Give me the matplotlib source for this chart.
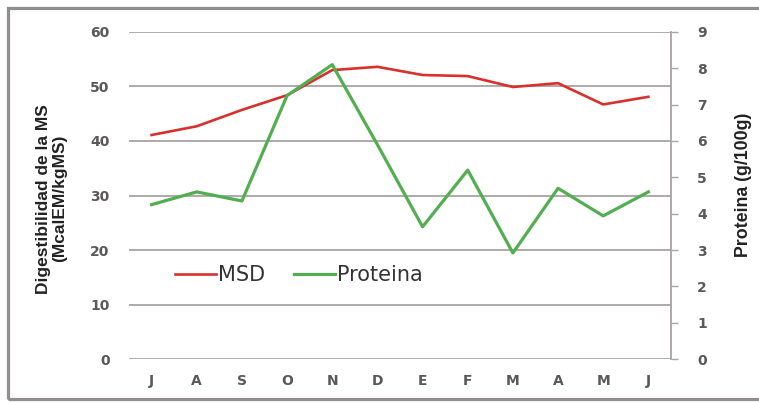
import matplotlib
matplotlib.use("Agg")
import matplotlib.pyplot as plt
from matplotlib.patches import Rectangle

# Monthly series (July to June)
months = ["J", "A", "S", "O", "N", "D", "E", "F", "M", "A", "M", "J"]
msd = [41.1, 42.7, 45.7, 48.4, 53.0, 53.6, 52.1, 51.9, 49.9, 50.6, 46.7, 48.1]
proteina = [4.25, 4.6, 4.35, 7.25, 8.1, 5.9, 3.64, 5.2, 2.92, 4.7, 3.94, 4.6]

left_ticks = [0, 10, 20, 30, 40, 50, 60]
right_ticks = [0, 1, 2, 3, 4, 5, 6, 7, 8, 9]

plt.rcParams["font.family"] = ["DejaVu Sans"]

fig = plt.figure(figsize=(7.59, 4.04), dpi=100)
ax = fig.add_axes([0.170, 0.111, 0.714, 0.810])
ax2 = ax.twinx()

x = list(range(len(months)))
grid_c = "#aaa3a3"
tick_c = "#5a5858"

l1, = ax.plot(x, msd, color="#d8302d", lw=1.9, label="MSD", zorder=3)
l2, = ax2.plot(x, proteina, color="#52ae50", lw=2.3, label="Proteina", zorder=3)

ax.set_xlim(-0.5, len(months) - 0.5)
ax.set_ylim(0, 60)
ax.set_yticks(left_ticks)
ax.set_xticks(x)
ax.set_xticklabels(months)
ax2.set_ylim(0, 9)
ax2.set_yticks(right_ticks)

ax.grid(axis="y", color=grid_c, lw=1.3)
ax.set_axisbelow(True)

for s in ["top", "left", "bottom", "right"]:
    ax.spines[s].set_visible(False)
for s in ["top", "left", "bottom"]:
    ax2.spines[s].set_visible(False)
ax2.spines["right"].set_color(grid_c)
ax2.spines["right"].set_linewidth(1.3)

ax.tick_params(axis="y", length=0, pad=14, labelsize=10, labelcolor=tick_c)
ax.tick_params(axis="x", length=0, pad=11, labelsize=10, labelcolor=tick_c)
for lab in ax.get_xticklabels() + ax.get_yticklabels():
    lab.set_fontweight("bold")
ax2.tick_params(axis="y", length=5, width=1.0, color=grid_c, pad=14,
                labelsize=10, labelcolor=tick_c)
for lab in ax2.get_yticklabels():
    lab.set_fontweight("bold")

ax.set_ylabel("Digestibilidad de la MS\n(McalEM/kgMS)", fontsize=12.5,
              fontweight="bold", color="#222222", linespacing=1.1,
              family=["Liberation Sans", "DejaVu Sans"])
ax.yaxis.set_label_coords(-0.114, 0.49)
ax2.set_ylabel("Proteina (g/100g)", fontsize=12.8, fontweight="bold",
               color="#222222", family=["Liberation Sans", "DejaVu Sans"])
ax2.yaxis.set_label_coords(1.118, 0.532)

ax.legend(handles=[l1, l2], loc="center left",
          bbox_to_anchor=(175 / 759, 1 - 275 / 404),
          bbox_transform=fig.transFigure, borderpad=0, borderaxespad=0,
          ncol=2, frameon=False, fontsize=15, handlelength=1.95,
          handletextpad=0.1, columnspacing=1.4, labelcolor="#333333")

fig.add_artist(Rectangle((0.011, 0.013), 1.05, 0.967, transform=fig.transFigure,
                         fill=False, edgecolor="#938e8e", lw=2.3))

fig.savefig("out.png", dpi=100)
